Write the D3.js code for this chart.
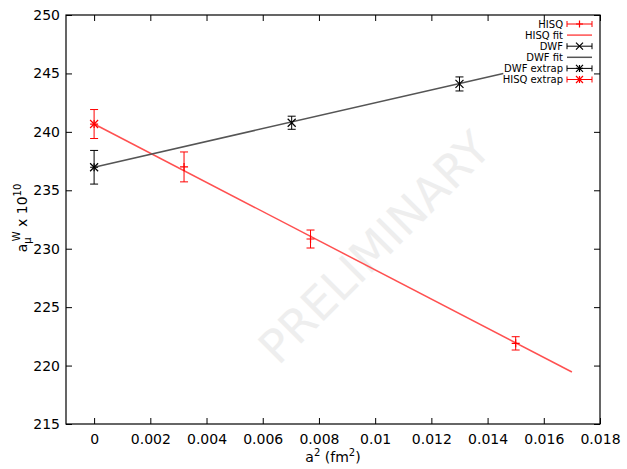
<!DOCTYPE html>
<html><head><meta charset="utf-8">
<script src="https://cdn.jsdelivr.net/npm/d3@7"></script>
<style>body{margin:0;background:#fff}svg{display:block}text{font-family:"DejaVu Sans",sans-serif}</style>
</head><body><svg id="c" width="627" height="469"></svg>
<script>
const xTicks=[0,0.002,0.004,0.006,0.008,0.01,0.012,0.014,0.016,0.018];
const yTicks=[215,220,225,230,235,240,245,250];
const hisqA2=[0.0032,0.0077,0.0150];
const hisqVal=[237.0,230.83,221.9];
const hisqErr=[1.28,0.77,0.57];
const dwfA2=[0.00703,0.0130];
const dwfVal=[240.78,244.1];
const dwfErr=[0.56,0.6];
const hisqExtrap={a2:0,val:240.67,err:1.24};
const dwfExtrap={a2:0,val:236.97,err:1.44};
const hisqFit={x:[0,0.0170],y:[240.67,219.45]};
const dwfFit={x:[0,0.01456],y:[236.97,245.0]};
const legendLabels=["HISQ","HISQ fit","DWF","DWF fit","DWF extrap","HISQ extrap"];

const svg=d3.select("#c");
const L=66,R=600,T=15,B=424;
const x=d3.scaleLinear().domain([-0.001,0.018]).range([L,R]);
const y=d3.scaleLinear().domain([215,250]).range([B,T]);
const RED="#ff0000",FITRED="#ff5050",BLK="#000",FITGRAY="#555";

// watermark
svg.append("text").attr("transform","translate(377,250) rotate(-45)")
  .attr("text-anchor","middle").attr("dominant-baseline","middle")
  .attr("font-size",46).attr("fill","#eeeeee").text("PRELIMINARY");

// axes with inward ticks
const tl=6;
const gx=svg.append("g").attr("transform",`translate(0,${B})`).call(d3.axisBottom(x).tickValues(xTicks).tickSizeInner(-tl).tickSizeOuter(0).tickPadding(6).tickFormat(d=>d3.format("~g")(d)));
const gx2=svg.append("g").attr("transform",`translate(0,${T})`).call(d3.axisTop(x).tickValues(xTicks).tickSizeInner(-tl).tickSizeOuter(0).tickFormat(""));
const gy=svg.append("g").attr("transform",`translate(${L},0)`).call(d3.axisLeft(y).tickValues(yTicks).tickSizeInner(-tl).tickSizeOuter(0).tickPadding(6));
const gy2=svg.append("g").attr("transform",`translate(${R},0)`).call(d3.axisRight(y).tickValues(yTicks).tickSizeInner(-tl).tickSizeOuter(0).tickFormat(""));
[gx,gx2,gy,gy2].forEach(g=>{g.select(".domain").remove();g.selectAll("line").attr("stroke","#000");g.selectAll("text").attr("font-size",14).attr("fill","#000").attr("font-family","DejaVu Sans, sans-serif");});
gx.selectAll("text").attr("y",10).attr("dy","0.71em");
svg.append("rect").attr("x",L).attr("y",T).attr("width",R-L).attr("height",B-T).attr("fill","none").attr("stroke","#000").attr("stroke-width",1.2);

// axis labels
const xl=svg.append("text").attr("x",333).attr("y",462).attr("text-anchor","middle").attr("font-size",14);
xl.append("tspan").text("a");
xl.append("tspan").attr("dy",-6).attr("font-size",10).text("2");
xl.append("tspan").attr("dy",6).text(" (fm");
xl.append("tspan").attr("dy",-6).attr("font-size",10).text("2");
xl.append("tspan").attr("dy",6).text(")");

const yl=svg.append("text").attr("transform","translate(27,218) rotate(-90)").attr("text-anchor","middle").attr("font-size",14);
yl.append("tspan").text("a");
yl.append("tspan").attr("dy",4).attr("font-size",10).text("μ");
yl.append("tspan").attr("dy",-11).attr("dx",-4).attr("font-size",10).text("W");
yl.append("tspan").attr("dy",7).text(" x 10");
yl.append("tspan").attr("dy",-6).attr("font-size",10).text("10");

// fit lines
const line=d3.line().x(d=>x(d[0])).y(d=>y(d[1]));
svg.append("path").attr("d",line(d3.zip(hisqFit.x,hisqFit.y))).attr("stroke",FITRED).attr("stroke-width",1.5).attr("fill","none");
svg.append("path").attr("d",line(d3.zip(dwfFit.x,dwfFit.y))).attr("stroke",FITGRAY).attr("stroke-width",1.5).attr("fill","none");

// markers
function errbar(g,cx,v,e,col){
  const y1=y(v+e),y2=y(v-e),cw=4;
  g.append("line").attr("x1",cx).attr("x2",cx).attr("y1",y1).attr("y2",y2).attr("stroke",col);
  g.append("line").attr("x1",cx-cw).attr("x2",cx+cw).attr("y1",y1).attr("y2",y1).attr("stroke",col);
  g.append("line").attr("x1",cx-cw).attr("x2",cx+cw).attr("y1",y2).attr("y2",y2).attr("stroke",col);
}
function plus(g,cx,cy,col,s=4){g.append("path").attr("d",`M${cx-s},${cy}H${cx+s}M${cx},${cy-s}V${cy+s}`).attr("stroke",col).attr("stroke-width",1.2);}
function cross(g,cx,cy,col,s=4){g.append("path").attr("d",`M${cx-s},${cy-s}L${cx+s},${cy+s}M${cx-s},${cy+s}L${cx+s},${cy-s}`).attr("stroke",col).attr("stroke-width",1.2);}
function star(g,cx,cy,col,s=4){plus(g,cx,cy,col,s);cross(g,cx,cy,col,s);}

const gm=svg.append("g");
hisqA2.forEach((a,i)=>{errbar(gm,x(a),hisqVal[i],hisqErr[i],RED);plus(gm,x(a),y(hisqVal[i]),RED);});
dwfA2.forEach((a,i)=>{errbar(gm,x(a),dwfVal[i],dwfErr[i],BLK);cross(gm,x(a),y(dwfVal[i]),BLK);});
errbar(gm,x(dwfExtrap.a2),dwfExtrap.val,dwfExtrap.err,BLK);star(gm,x(dwfExtrap.a2),y(dwfExtrap.val),BLK);
errbar(gm,x(hisqExtrap.a2),hisqExtrap.val,hisqExtrap.err,RED);star(gm,x(hisqExtrap.a2),y(hisqExtrap.val),RED);

// legend
const lg=svg.append("g");
const kinds=["plus","fitr","cross","fitk","stark","starr"];
legendLabels.forEach((t,i)=>{
  const ly=24+i*11.1;
  lg.append("text").attr("x",563).attr("y",ly).attr("dy","0.35em").attr("text-anchor","end").attr("font-size",10).text(t);
  const k=kinds[i];
  const x1=567,x2=592,xm=579.5;
  if(k==="fitr"||k==="fitk"){
    lg.append("line").attr("x1",x1).attr("x2",x2).attr("y1",ly).attr("y2",ly).attr("stroke",k==="fitr"?FITRED:FITGRAY).attr("stroke-width",1.5);
  } else {
    const col=(k==="plus"||k==="starr")?RED:BLK;
    lg.append("path").attr("d",`M${x1},${ly}H${x2}M${x1},${ly-3}V${ly+3}M${x2},${ly-3}V${ly+3}`).attr("stroke",col);
    if(k==="plus")plus(lg,xm,ly,col,3.5);
    if(k==="cross")cross(lg,xm,ly,col,3.5);
    if(k==="stark"||k==="starr")star(lg,xm,ly,col,3.5);
  }
});
</script></body></html>
